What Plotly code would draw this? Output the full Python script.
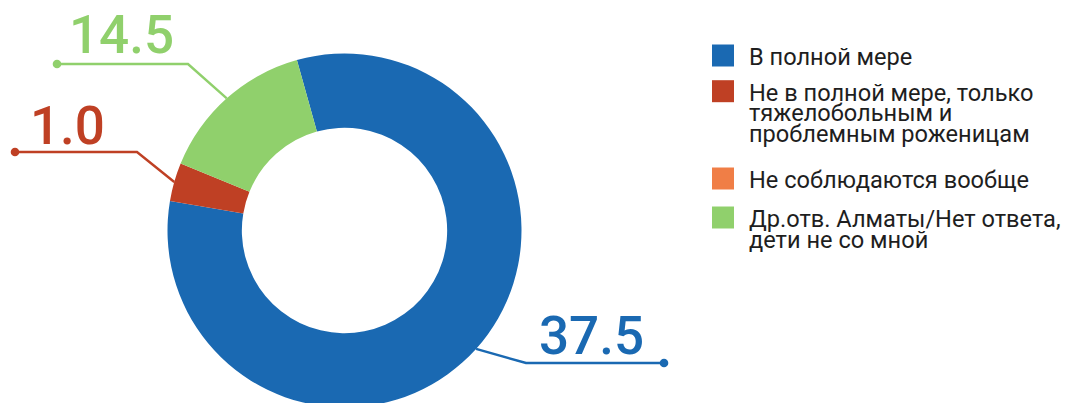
import math
import plotly.graph_objects as go

# ---------------- data ----------------
categories = [
    "В полной мере",
    "Не в полной мере, только<br>тяжелобольным и<br>проблемным роженицам",
    "Не соблюдаются вообще",
    "Др.отв. Алматы/Нет ответа,<br>дети не со мной",
]
# arc shares as drawn in the ring
slice_shares = [82.0, 3.5, 0.0, 14.5]
# numbers printed beside the ring
label_values = [37.5, 1.0, None, 14.5]
colors = ["#1a69b2", "#bf4024", "#f07e46", "#90d06c"]

# ---------------- layout constants (screen pixels) ----------------
W, H = 1069, 403
OFF = 8            # default page margin of the html body
CX, CY, R = 344.5, 230.5, 177.0
HOLE = 0.58
ROTATION = -15.6
FONT = "Roboto"
LABEL_SIZE = 53
LEG_SIZE = 23.6
ASC_MID = 0.342  # em offset of the text box middle above the baseline

# leader layout per slice index: elbow point, end dot, label centre x, label baseline
label_layout = {
    0: dict(elbow=(526, 363), end=(664, 363), tx=591, base=354),
    1: dict(elbow=(137, 152), end=(15, 152), tx=67, base=144),
    3: dict(elbow=(188, 64), end=(57, 64), tx=121.5, base=53),
}
# legend layout
LEG_SQ_X = 712
LEG_SQ = 22
LEG_TX = 748
leg_baselines = [65, 100.7, 188, 227]
LEG_LINE_H = 20.7


def px(x):
    return (x - OFF) / W


def py(y):
    return 1 - (y - OFF) / H


fig = go.Figure(
    go.Pie(
        labels=[c.replace("<br>", " ") for c in categories],
        values=slice_shares,
        sort=False,
        direction="clockwise",
        rotation=ROTATION,
        hole=HOLE,
        marker=dict(colors=colors, line=dict(width=0)),
        textinfo="none",
        showlegend=False,
        domain=dict(x=[px(CX - R), px(CX + R)], y=[py(CY + R), py(CY - R)]),
    )
)

shapes = []
annotations = []

# leader lines + value labels
total = sum(slice_shares)
cum = 0.0
for i, s in enumerate(slice_shares):
    a0 = ROTATION + 360 * cum / total
    cum += s
    a1 = ROTATION + 360 * cum / total
    if i not in label_layout or label_values[i] is None:
        continue
    mid = math.radians((a0 + a1) / 2)
    sx = CX + R * math.sin(mid)
    sy = CY - R * math.cos(mid)
    L = label_layout[i]
    ex, ey = L["elbow"]
    dx, dy = L["end"]
    shapes.append(dict(
        type="path", xref="paper", yref="paper",
        path=f"M{px(sx)},{py(sy)} L{px(ex)},{py(ey)} L{px(dx)},{py(dy)}",
        line=dict(color=colors[i], width=2.4),
    ))
    rr = 4.3
    shapes.append(dict(
        type="circle", xref="paper", yref="paper",
        x0=px(dx - rr), x1=px(dx + rr), y0=py(dy + rr), y1=py(dy - rr),
        fillcolor=colors[i], line=dict(width=0),
    ))
    annotations.append(dict(
        text=f"{label_values[i]:.1f}", xref="paper", yref="paper",
        x=px(L["tx"]), y=py(L["base"] - ASC_MID * LABEL_SIZE),
        xanchor="center", yanchor="middle", showarrow=False, borderpad=0,
        font=dict(family=FONT, size=LABEL_SIZE, color=colors[i], weight=500),
    ))

# custom legend
for i, cat in enumerate(categories):
    b = leg_baselines[i]
    shapes.append(dict(
        type="rect", xref="paper", yref="paper",
        x0=px(LEG_SQ_X), x1=px(LEG_SQ_X + LEG_SQ),
        y0=py(b + 1.5), y1=py(b + 1.5 - LEG_SQ),
        fillcolor=colors[i], line=dict(width=0),
    ))
    for k, line in enumerate(cat.split("<br>")):
        bl = b + k * LEG_LINE_H
        annotations.append(dict(
            text=line, xref="paper", yref="paper",
            x=px(LEG_TX), y=py(bl - ASC_MID * LEG_SIZE),
            xanchor="left", yanchor="middle", showarrow=False, borderpad=0,
            font=dict(family=FONT, size=LEG_SIZE, color="#1e1e1e"),
        ))

fig.update_layout(
    width=W, height=H,
    margin=dict(l=0, r=0, t=0, b=0),
    paper_bgcolor="white", plot_bgcolor="white",
    shapes=shapes, annotations=annotations,
)

fig.write_html("out.html")
